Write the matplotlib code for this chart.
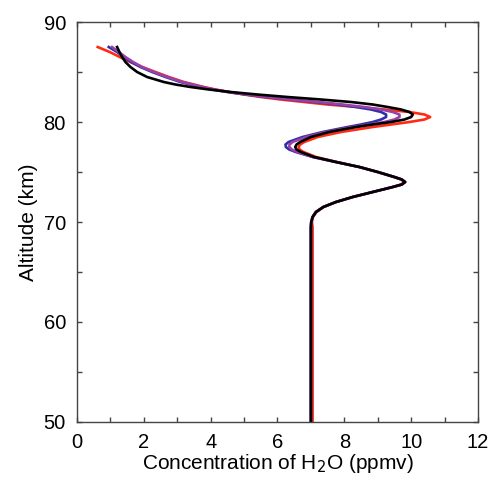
import matplotlib
matplotlib.use("Agg")
import matplotlib.pyplot as plt
from matplotlib.ticker import MultipleLocator

plt.rcParams['font.family'] = ['Liberation Sans', 'DejaVu Sans']

# altitude grid (km) shared by all profiles
alt = [50, 69, 69.5, 70, 70.5, 71, 71.5, 72, 72.5, 73,
       73.5, 73.75, 74, 74.25, 74.5, 75, 75.5, 76, 76.5, 77,
       77.25, 77.5, 77.75, 78, 78.5, 79, 79.5, 79.75, 80, 80.25,
       80.5, 80.75, 81, 81.25, 81.5, 81.75, 82, 82.25, 82.5, 82.75,
       83, 83.25, 83.5, 83.75, 84, 84.5, 85, 85.5, 86, 86.5,
       87, 87.5]

# H2O concentration (ppmv)
h2o_red = [7.05, 7.05, 7.05, 7.03, 7.06, 7.17, 7.38, 7.75, 8.25, 8.85,
           9.45, 9.7, 9.8, 9.7, 9.48, 9.0, 8.45, 7.78, 7.15, 6.78,
           6.66, 6.63, 6.68, 6.8, 7.2, 7.9, 8.85, 9.4, 9.95, 10.4,
           10.57, 10.4, 9.95, 9.2, 8.4, 7.5, 6.8, 6.1, 5.5, 5.0,
           4.55, 4.15, 3.8, 3.5, 3.2, 2.75, 2.35, 1.95, 1.6, 1.28,
           0.98, 0.62]
h2o_blue = [7.0, 7.0, 7.0, 7.01, 7.05, 7.15, 7.37, 7.75, 8.25, 8.85,
            9.45, 9.72, 9.82, 9.72, 9.5, 9.0, 8.45, 7.75, 7.05, 6.55,
            6.35, 6.25, 6.24, 6.33, 6.75, 7.35, 8.1, 8.5, 8.85, 9.1,
            9.25, 9.25, 9.1, 8.8, 8.35, 7.8, 7.1, 6.35, 5.65, 5.05,
            4.5, 4.05, 3.7, 3.4, 3.1, 2.65, 2.25, 1.9, 1.62, 1.4,
            1.2, 0.95]
h2o_purple = [7.0, 7.0, 7.0, 7.01, 7.05, 7.15, 7.37, 7.75, 8.25, 8.85,
              9.45, 9.72, 9.82, 9.72, 9.5, 9.0, 8.45, 7.75, 7.07, 6.6,
              6.43, 6.35, 6.36, 6.45, 6.85, 7.45, 8.25, 8.75, 9.2, 9.5,
              9.65, 9.65, 9.45, 9.1, 8.6, 7.95, 7.2, 6.4, 5.7, 5.1,
              4.55, 4.1, 3.75, 3.45, 3.15, 2.7, 2.3, 1.95, 1.68, 1.45,
              1.25, 1.05]
h2o_black = [7.0, 7.0, 7.0, 7.01, 7.05, 7.15, 7.37, 7.75, 8.25, 8.85,
             9.45, 9.72, 9.82, 9.72, 9.5, 9.0, 8.45, 7.75, 7.1, 6.7,
             6.57, 6.53, 6.57, 6.68, 7.0, 7.55, 8.35, 8.85, 9.4, 9.8,
             10.0, 10.05, 9.95, 9.7, 9.3, 8.85, 8.2, 7.3, 6.3, 5.4,
             4.6, 3.95, 3.4, 2.95, 2.6, 2.1, 1.8, 1.6, 1.45, 1.35,
             1.27, 1.2]

fig = plt.figure(figsize=(4.92, 4.86), dpi=100)
ax = fig.add_axes([0.1565, 0.1317, 0.815, 0.823])

ax.plot(h2o_red, alt, color='#ff2b14', lw=1.9)
ax.plot(h2o_blue, alt, color='#2f2fa8', lw=1.9)
ax.plot(h2o_purple, alt, color='#9a40a6', lw=1.9)
ax.plot(h2o_black, alt, color='black', lw=1.9)

ax.set_xlim(0, 12)
ax.set_ylim(50, 90)
ax.xaxis.set_major_locator(MultipleLocator(2))
ax.xaxis.set_minor_locator(MultipleLocator(1))
ax.yaxis.set_major_locator(MultipleLocator(10))
ax.yaxis.set_minor_locator(MultipleLocator(5))
ax.tick_params(which='both', direction='in', top=True, right=True,
               length=3.5, width=1, color='#444444', labelsize=14.5, pad=8)
for s in ax.spines.values():
    s.set_color('#444444')
    s.set_linewidth(1)

ax.set_xlabel('Concentration of H$_2$O (ppmv)', fontsize=15, labelpad=0)
ax.set_ylabel('Altitude (km)', fontsize=15, labelpad=4)

fig.savefig('out.png', dpi=100)
